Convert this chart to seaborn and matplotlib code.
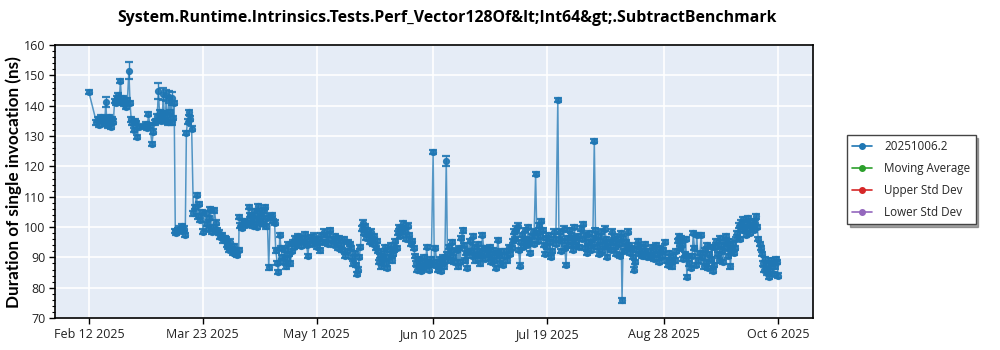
import matplotlib
matplotlib.use("Agg")
import matplotlib.pyplot as plt
from matplotlib.lines import Line2D
from matplotlib.ticker import MultipleLocator
import numpy as np
import pandas as pd
import seaborn as sns

# ---- benchmark results: days since the first run, duration in ns ----
start_date = "2025-02-12"

days = [
    # February / March
    0, 2.6, 3.0, 3.4, 3.8, 4.2, 4.6, 5.0, 5.4, 5.8, 6.1, 6.5, 6.9, 7.3, 7.7, 8.0, 8.4,
    8.8, 9.2, 9.6, 10.0, 10.4, 10.8, 11.2, 11.6, 12.0, 12.4, 12.8, 13.2, 13.7, 14.1,
    14.5, 14.9, 15.3, 15.7, 16.1, 16.6, 17.0,
    19.0, 19.5, 20.0, 20.4, 20.9, 21.6, 22.1, 22.6, 23.1,
    23.4, 23.8, 24.2, 24.5, 24.8, 25.1, 25.5, 25.8, 26.2, 26.5, 26.8, 27.1, 27.5, 27.8, 28.3, 28.6, 28.9, 29.2,
    29.6, 30.0, 30.5, 31.0, 31.5, 32.0, 32.5, 33.0,
    33.4, 33.8, 34.2, 34.6, 35.2,
    35.8, 36.3, 36.9, 37.3, 37.8, 38.2, 38.7, 39.1,
    # March / April
    40.0, 40.4, 40.8, 41.2, 41.6, 42.0, 42.5, 43.0,
    43.5, 44.0, 44.5, 45.0, 45.5, 46.0, 46.5,
    46.9, 47.3, 47.7, 48.1, 48.5, 48.9, 49.3, 49.7, 50.1, 50.5, 50.9, 51.3,
    51.5, 51.9, 52.3, 52.8, 53.3, 53.8, 54.3,
    54.7, 55.1, 55.5, 55.9, 56.3, 56.7, 57.1, 57.5, 57.9, 58.3, 58.7, 59.1, 59.5, 59.9, 60.3, 60.7, 61.1,
    61.6, 62.1, 62.6, 63.1, 63.6, 64.0, 64.5, 64.9,
    65.4, 65.8, 66.2, 66.6, 67.0, 67.4, 67.8, 68.2, 68.6, 69.0, 69.4, 69.8, 70.2,
    70.6, 71.1, 71.6, 72.1, 72.6, 73.1, 73.6, 74.1, 74.6, 75.0, 75.5, 76.0, 76.5, 77.0, 77.5, 78.0, 78.5, 79.0, 79.5, 80.0,
    80.5, 81.0, 81.5, 82.0, 82.5,
    # May / June
    83.3, 83.8, 84.3, 84.8, 85.3, 85.8,
    86.3, 86.8, 87.3, 87.8, 88.3, 88.8, 89.3,
    89.8, 90.2, 90.6, 91.0, 91.4, 91.8, 92.2, 92.6, 93.0,
    93.4, 93.8, 94.2, 94.6, 95.0, 95.4, 95.8, 96.2, 96.6, 97.0, 97.4, 97.8, 98.2, 98.6,
    99.0, 99.4, 99.8, 100.2, 100.6, 101.0, 101.4, 101.8, 102.2, 102.6, 103.0, 103.4, 103.8, 104.2, 104.6,
    105.0, 105.4, 105.8, 106.2, 106.7, 107.2, 107.7, 108.2, 108.7, 109.2, 109.7, 110.2, 110.7, 111.2,
    111.7, 112.1, 112.5, 112.9, 113.3, 113.7, 114.1, 114.5, 114.9, 115.3, 115.7, 116.1, 116.5,
    116.9, 117.3, 117.9, 118.3, 118.7, 119.1, 119.5, 119.9, 120.3, 120.7, 121.0, 121.3, 121.6, 121.9, 122.4, 122.8,
    123.2, 123.6, 124.0, 124.4, 124.8, 125.2,
    # June / July
    126.0, 126.4, 126.8, 127.2, 127.6, 128.0, 128.4, 128.8, 129.2, 129.6, 130.0,
    130.4, 130.8, 131.2, 131.6, 132.0, 132.4, 132.8, 133.2, 133.6, 134.0, 134.4, 134.8, 135.2, 135.6, 136.0, 136.4,
    136.9, 137.3, 137.7, 138.1, 138.5, 138.9, 139.3, 139.7, 140.1, 140.5, 140.9, 141.3, 141.8, 142.3, 142.8, 143.3, 143.8, 144.3,
    144.8, 145.2, 145.6, 146.0, 146.4, 146.8, 147.2, 147.6, 148.0, 148.4, 148.8, 149.2, 149.6, 150.0, 150.4, 150.8, 151.2, 151.6, 152.0, 152.4,
    153.0, 153.4, 153.8, 154.2, 154.6, 155.0, 155.4, 155.8, 156.2, 156.6, 157.0, 157.4, 157.8, 158.2, 158.6, 159.0, 159.4, 159.9,
    160.6, 161.0, 161.4, 161.8, 162.2, 162.6, 163.0, 163.4, 163.8, 164.2, 164.6, 165.0, 165.4, 165.8, 166.2, 166.6, 167.0, 167.4, 167.8,
    # August / September
    168.6, 169.0, 169.4, 169.8, 170.2, 170.6, 171.0, 171.4, 171.8, 172.2, 172.6,
    173.1, 173.5, 173.9, 174.3, 174.7, 175.1, 175.5, 175.9, 176.3, 176.7, 177.1, 177.5, 177.9, 178.3, 178.7,
    179.1, 179.5, 179.9, 180.3, 180.7, 181.1, 181.5, 181.9, 182.3, 182.6, 183.0, 183.4, 183.8, 184.2, 184.6, 185.0,
    185.4, 185.8, 186.2, 186.6, 187.0, 187.4, 187.8, 188.2, 188.6, 189.1, 189.6, 190.1, 190.6, 191.1, 191.6,
    192.2, 192.7, 193.2, 193.7, 194.2, 194.7, 195.2, 195.7, 196.2, 196.7, 197.2, 197.7, 198.2, 198.7, 199.2, 199.7, 200.2, 200.7,
    201.2, 201.6, 202.0, 202.4, 202.8, 203.2, 203.6, 204.0, 204.4, 204.8, 205.2, 205.6,
    206.1, 206.6, 207.0, 207.4, 207.8, 208.2, 208.6,
    # September / October
    209.3, 209.7, 210.1, 210.5, 210.9, 211.3, 211.7, 212.1, 212.5, 212.9, 213.3, 213.7,
    214.1, 214.5, 214.9, 215.3, 215.7, 216.1, 216.5, 216.9, 217.3, 217.7, 218.1, 218.5, 218.9, 219.3, 219.7, 220.1, 220.5, 220.9, 221.3, 221.7,
    222.1, 222.5, 222.9, 223.3, 223.7, 224.1, 224.5, 224.9, 225.3, 225.7, 226.1, 226.5, 226.9, 227.3, 227.7, 228.1, 228.5, 228.9,
    229.3, 229.7, 230.1, 230.5,
    230.9, 231.3, 231.7, 232.1, 232.5, 232.9, 233.3, 233.7, 234.1, 234.5, 234.9, 235.3, 235.7, 236.1,
]

durations_ns = [
    # February / March
    144.5, 134.5, 135.5, 133.8, 135.5, 136.2, 134.9, 136.0, 134.0, 141.2, 135.5, 133.5, 136.3, 134.2, 133.1, 135.6, 134.8,
    141.5, 140.8, 142.5, 143.5, 141.2, 148.2, 141.5, 142.6, 140.5, 141.0, 139.5, 141.8, 151.5, 140.8,
    135.5, 134.2, 132.0, 135.0, 134.3, 129.8, 133.0,
    133.4, 134.0, 132.6, 137.2, 133.5, 127.5, 131.5, 134.5, 135.0,
    136.5, 144.8, 137.8, 136.4, 134.9, 135.5, 144.0, 137.5, 135.0, 143.5, 136.8, 134.5, 143.0, 138.0, 142.5, 134.5, 136.0, 141.0,
    98.7, 98.2, 99.0, 99.5, 98.8, 100.2, 99.5, 97.5,
    131.1, 134.8, 137.8, 135.8, 132.5,
    104.5, 106.7, 110.5, 103.5, 107.5, 102.3, 105.0, 98.5,
    # March / April
    104.5, 101.0, 99.5, 103.0, 106.0, 98.5, 100.0, 105.5,
    101.5, 99.0, 98.2, 96.8, 97.5, 95.6, 96.5,
    96.0, 94.0, 93.5, 92.5, 95.2, 92.8, 91.6, 93.8, 92.0, 91.2, 90.8, 92.5,
    103.3, 100.5, 99.8, 101.5, 102.0, 100.8, 101.2,
    106.5, 104.0, 101.5, 103.8, 100.5, 105.2, 102.5, 100.0, 106.8, 104.5, 102.0, 103.5, 101.0, 105.5, 106.5, 100.2, 103.0,
    86.7, 103.5, 104.0, 102.0, 101.5, 92.3, 88.2, 85.1,
    97.5, 93.0, 90.0, 88.5, 92.5, 87.0, 89.5, 94.5, 91.0, 88.0, 92.0, 95.0, 93.5,
    96.5, 94.5, 97.0, 95.5, 93.8, 96.5, 95.0, 97.8, 94.0, 90.4, 95.8, 96.8, 94.5, 97.2, 95.5, 93.5, 96.0, 92.3, 97.5, 95.0,
    98.5, 95.0, 97.5, 94.5, 99.0,
    # May / June
    96.0, 94.0, 97.0, 95.5, 93.0, 96.5,
    94.0, 92.5, 96.0, 90.5, 92.0, 95.0, 94.5,
    93.0, 90.0, 88.0, 91.5, 87.5, 84.5, 86.0, 90.0, 93.5,
    99.5, 101.5, 98.0, 100.2, 96.5, 99.0, 97.5, 95.0, 98.5, 96.0, 94.5, 97.0, 93.0, 95.5,
    92.0, 88.5, 90.5, 87.0, 89.5, 91.5, 93.5, 88.0, 86.5, 90.0, 92.5, 94.0, 89.0, 91.0, 92.5,
    95.5, 93.0, 98.0, 100.0, 97.0, 99.5, 101.2, 98.5, 96.0, 100.5, 97.5, 94.5, 95.5, 93.0,
    90.5, 88.0, 86.0, 89.5, 87.0, 85.5, 88.5, 86.5, 90.0, 87.5, 93.4, 88.5, 86.0,
    88.0, 89.5, 124.8, 87.5, 93.0, 88.5, 86.0, 87.0, 89.5, 85.5, 88.0, 90.0, 87.0, 89.0, 121.8, 91.0,
    93.5, 89.0, 92.0, 95.0, 90.0, 88.5,
    # June / July
    92.5, 87.0, 93.0, 88.5, 96.5, 98.9, 94.0, 89.0, 91.5, 86.5, 92.0,
    95.5, 92.0, 90.5, 97.0, 93.5, 89.0, 91.0, 94.5, 92.0, 88.0, 90.5, 97.5, 93.0, 89.5, 91.0, 93.0,
    91.0, 93.5, 88.5, 90.0, 92.5, 89.0, 86.5, 91.5, 95.8, 90.5, 88.0, 92.0, 87.5, 90.5, 92.0, 89.0, 93.5, 91.0,
    93.0, 95.5, 98.5, 96.0, 99.5, 100.5, 92.5, 87.3, 95.0, 97.5, 93.5, 99.0, 96.0, 94.0, 100.0, 95.0, 91.5, 97.0, 98.5, 94.5,
    117.5, 98.0, 95.5, 100.5, 97.0, 102.0, 99.0, 94.0, 91.0, 96.5, 93.5, 97.5, 95.0, 90.0, 92.0, 96.0, 98.5, 94.5,
    141.8, 96.0, 98.5, 92.0, 95.5, 99.5, 93.0, 87.5, 96.5, 94.0, 99.0, 97.5, 95.0, 92.5, 100.0, 96.5, 94.0, 97.0, 93.5,
    # August / September
    99.5, 96.0, 101.0, 93.0, 97.5, 91.5, 95.0, 98.0, 92.5, 94.5, 96.5,
    128.4, 99.0, 93.5, 97.0, 91.0, 95.5, 98.5, 92.0, 94.0, 99.5, 96.0, 90.0, 93.5, 95.0, 92.5,
    98.5, 95.0, 97.0, 93.5, 91.0, 96.0, 94.5, 90.5, 98.0, 75.8, 96.5, 92.0, 95.0, 93.0, 98.5, 94.0,
    91.5, 93.0, 90.0, 86.0, 88.5, 92.5, 94.0, 95.5, 91.0, 93.5, 90.5, 92.0, 94.5, 90.0, 92.0,
    90.0, 93.5, 92.0, 89.5, 94.0, 91.0, 88.5, 93.0, 90.5, 92.5, 95.0, 89.0, 87.5, 91.5, 88.5, 87.0, 90.5, 89.0,
    92.0, 95.5, 97.0, 93.0, 96.5, 94.0, 89.5, 91.0, 96.0, 83.6, 90.5, 88.0,
    86.5, 90.5, 98.0, 93.0, 87.5, 97.5, 89.0,
    # September / October
    91.5, 97.5, 90.0, 87.0, 92.5, 88.5, 94.0, 86.5, 91.0, 89.5, 93.5, 85.5,
    87.5, 93.5, 95.5, 91.0, 89.0, 96.5, 94.0, 92.0, 88.5, 95.0, 97.0, 93.0, 90.5, 95.5, 87.0, 92.5, 94.5, 91.5, 93.0, 96.0,
    98.0, 100.5, 96.0, 101.5, 99.0, 102.5, 100.0, 97.5, 101.0, 103.0, 99.5, 98.0, 100.5, 102.0, 99.0, 101.5, 103.5, 100.0,
    96.0, 94.5, 93.0, 91.0,
    88.0, 86.0, 89.5, 85.0, 87.5, 83.5, 85.5, 89.0, 88.0, 84.5, 87.0, 89.5, 88.5, 84.0,
]

# typical run-to-run spread, and the runs with a wider spread (day -> ns)
base_spread_ns = 0.7
wide_spread_ns = {5.8: 1.6, 13.7: 2.8, 23.8: 2.6, 25.5: 2.0, 26.5: 1.8,
                  27.5: 2.0, 28.3: 2.2, 122.4: 1.6}

series_names = ["20251006.2", "Moving Average", "Upper Std Dev", "Lower Std Dev"]
series_colors = ["#1f77b4", "#2ca02c", "#d62728", "#9467bd"]

tick_dates = ["2025-02-12", "2025-03-23", "2025-05-01", "2025-06-10",
              "2025-07-19", "2025-08-28", "2025-10-06"]
tick_labels = ["Feb 12 2025", "Mar 23 2025", "May 1 2025", "Jun 10 2025",
               "Jul 19 2025", "Aug 28 2025", "Oct 6 2025"]

title = "System.Runtime.Intrinsics.Tests.Perf_Vector128Of&lt;Int64&gt;.SubtractBenchmark"
y_title = "Duration of single invocation (ns)"

# ---- frame ----
assert len(days) == len(durations_ns)
base = pd.Timestamp(start_date)
df = pd.DataFrame({
    "date": base + pd.to_timedelta(days, unit="D"),
    "ns": durations_ns,
})
df["err"] = [wide_spread_ns.get(d, base_spread_ns) for d in days]

sns.set_theme(style="darkgrid", rc={
    "axes.facecolor": "#e5ecf6",
    "grid.color": "white",
    "grid.linewidth": 1.2,
    "axes.edgecolor": "black",
    "axes.linewidth": 1.2,
})
plt.rcParams["font.family"] = ["Open Sans", "DejaVu Sans"]

fig = plt.figure(figsize=(10, 3.5), dpi=100)
ax = fig.add_axes([0.055, 0.0914, 0.758, 0.7796])

blue = series_colors[0]
sns.lineplot(data=df, x="date", y="ns", ax=ax, color=blue, linewidth=1.1,
             alpha=0.75, estimator=None, sort=False, legend=False)
ax.errorbar(df["date"], df["ns"], yerr=df["err"], fmt="o", ms=4.2,
            color=blue, ecolor=blue, elinewidth=1.0, capsize=3, capthick=1.6,
            alpha=0.9, zorder=3)

# axes ranges and ticks
ax.set_ylim(70, 160)
ax.yaxis.set_major_locator(MultipleLocator(10))
ax.yaxis.set_minor_locator(MultipleLocator(2))
ax.set_xlim(base - pd.Timedelta(days=11.6), base + pd.Timedelta(days=248.0))
ax.set_xticks(pd.to_datetime(tick_dates))
ax.set_xticklabels(tick_labels)
ax.tick_params(axis="both", which="major", direction="out", length=4, width=1,
               color="black", labelsize=9, labelcolor="#222222", pad=3,
               bottom=True, left=True)
ax.tick_params(axis="y", which="minor", direction="out", length=2, width=0.8,
               color="black", left=True)
ax.grid(True, which="major", color="white", linewidth=1.2)
ax.grid(False, which="minor")
for s in ax.spines.values():
    s.set_visible(True)
    s.set_color("black")
    s.set_linewidth(1.2)

ax.set_xlabel("")
ax.set_ylabel(y_title, fontsize=12.3, fontweight="bold", color="black",
              family=["Lato", "DejaVu Sans"])
ax.yaxis.set_label_coords(-0.043, 0.5)

fig.text(0.447, 0.948, title, ha="center", va="center", fontsize=11.4,
         fontweight="bold", color="black")

# legend panel
handles = [Line2D([0], [0], color=c, lw=1.2, marker="o", ms=4) for c in series_colors]
leg = fig.legend(handles, series_names, loc="upper left",
                 bbox_to_anchor=(0.847, 0.614), borderaxespad=0.0,
                 frameon=True, fancybox=False, shadow=True, fontsize=8.4,
                 handlelength=1.65, handletextpad=1.1, labelspacing=0.75,
                 borderpad=0.45)
leg.get_frame().set_edgecolor("#444444")
leg.get_frame().set_linewidth(1.0)
leg.get_frame().set_facecolor("white")

fig.savefig("out.png", dpi=100, facecolor="white")
